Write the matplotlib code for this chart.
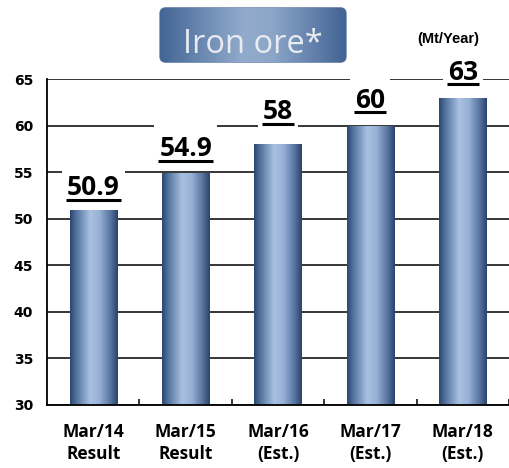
import matplotlib
matplotlib.use("Agg")
import matplotlib.pyplot as plt
import numpy as np
from matplotlib.colors import LinearSegmentedColormap
from matplotlib.patches import FancyBboxPatch, Rectangle
from matplotlib.lines import Line2D
from matplotlib.transforms import IdentityTransform

categories = ["Mar/14\nResult", "Mar/15\nResult", "Mar/16\n(Est.)", "Mar/17\n(Est.)", "Mar/18\n(Est.)"]
values = [50.9, 54.9, 58, 60, 63]
value_labels = ["50.9", "54.9", "58", "60", "63"]
yticks = [30, 35, 40, 45, 50, 55, 60, 65]
title = "Iron ore*"
unit = "(Mt/Year)"

# layout: how far (px) each label's baseline sits above its bar top
label_lift_px = [15, 17, 25, 18, 18]

LBL_FONT = ["Open Sans", "DejaVu Sans"]
DPI = 100

fig = plt.figure(figsize=(5.1, 4.68), dpi=DPI)
ax = fig.add_axes([47/510, 63/468, 462/510, 326/468])

bar_cmap = LinearSegmentedColormap.from_list("bar", [
    (0.0, "#2c466e"), (0.12, "#4f6f9b"), (0.42, "#a9c1e2"),
    (0.62, "#97b0d5"), (0.85, "#56749f"), (1.0, "#2a4369")])

x = np.arange(len(values))
bars = ax.bar(x, values, width=0.51, color="none", edgecolor="none", zorder=2)
grad = np.linspace(0, 1, 256).reshape(1, -1)
for b in bars:
    x0 = b.get_x()
    im = ax.imshow(grad, cmap=bar_cmap, aspect="auto", zorder=2,
                   extent=(x0, x0 + b.get_width(), 30, b.get_height()))
    im.set_clip_path(b)
ax.set_xlim(-0.5, len(values) - 0.5)
ax.set_ylim(30, 65)

ax.set_axisbelow(True)
ax.yaxis.grid(True, color="black", linewidth=1.1)
ax.set_yticks(yticks)
ax.tick_params(axis="y", length=0, pad=10)
for lab in ax.get_yticklabels():
    lab.set_fontfamily(["DejaVu Sans"])
    lab.set_fontweight("bold")
    lab.set_fontsize(10)

ax.set_xticks(x)
ax.set_xticklabels(categories, fontfamily=LBL_FONT, fontweight="bold", fontsize=12.5, linespacing=1.3)
ax.tick_params(axis="x", length=0, pad=13)
ax.set_xticks(np.arange(len(values)) + 0.5, minor=True)
ax.tick_params(axis="x", which="minor", direction="in", length=4, width=1.1, color="black")

for s in ["top", "right"]:
    ax.spines[s].set_visible(False)
for s in ["left", "bottom"]:
    ax.spines[s].set_linewidth(1.3)

texts = []
for xi, v, lbl, lift in zip(x, values, value_labels, label_lift_px):
    t = ax.annotate(lbl, (xi, v), xytext=(0, lift * 72 / DPI), textcoords="offset points",
                    ha="center", va="baseline", fontfamily=LBL_FONT,
                    fontweight="bold", fontsize=19, zorder=4, annotation_clip=False)
    texts.append(t)

fig.canvas.draw()
r = fig.canvas.get_renderer()
for t, xi, v, lift in zip(texts, x, values, label_lift_px):
    bb = t.get_window_extent(r)
    ybase = ax.transData.transform((xi, v))[1] + lift
    # white backing box that interrupts the gridlines
    ax.add_artist(Rectangle((bb.x0 - 5, ybase - 9), bb.width + 10, 40,
                            transform=IdentityTransform(), facecolor="white",
                            edgecolor="none", zorder=3.5, clip_on=False))
    yl = ybase - 4.5
    ax.add_artist(Line2D([bb.x0 - 1, bb.x1 + 1], [yl, yl], transform=IdentityTransform(),
                         color="black", linewidth=2.2, zorder=5, solid_capstyle="butt",
                         clip_on=False))

# title box
tax = fig.add_axes([156/510, 1 - 64/468, 194/510, 58/468])
tax.set_xlim(0, 1)
tax.set_ylim(0, 1)
tax.axis("off")
title_cmap = LinearSegmentedColormap.from_list("title", [
    (0.0, "#3f6293"), (0.45, "#92abcc"), (0.6, "#8ca6c8"), (1.0, "#3e6091")])
box = FancyBboxPatch((0.02, 0.03), 0.96, 0.94, boxstyle="round,pad=0,rounding_size=0.03",
                     facecolor="none", edgecolor="#6f88aa", linewidth=0.8,
                     mutation_aspect=194/58, transform=tax.transAxes)
tax.add_patch(box)
tim = tax.imshow(grad, cmap=title_cmap, aspect="auto", extent=(0, 1, 0, 1), zorder=1)
tim.set_clip_path(box)
tax.text(0.5, 0.19, title, ha="center", va="baseline", fontfamily="Open Sans",
         fontsize=23.5, color="#e8ecf2", zorder=3)

fig.text(448/510, 1 - 39/468, unit, ha="center", va="center", fontfamily="Liberation Sans",
         fontweight="bold", fontsize=10.5)

fig.savefig("out.png", dpi=DPI)
